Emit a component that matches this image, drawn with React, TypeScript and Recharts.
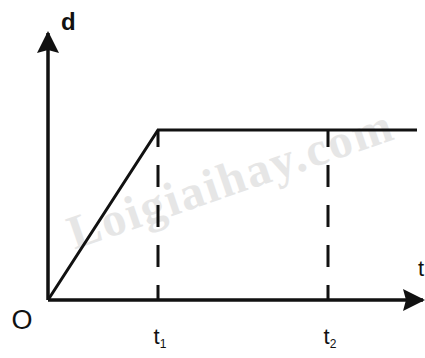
import React from 'react';
import { LineChart, Line, XAxis, YAxis, ReferenceLine, Label } from 'recharts';

// distance-time graph: rise until t1, then constant
const times = [0, 2.2, 7.38];
const distances = [0, 10, 10];
const markTimes = [2.2, 5.6];
const markSubs = ['1', '2'];

const data = times.map((t, i) => ({ t, d: distances[i] }));

const FONT = '"Liberation Sans", Arial, sans-serif';

function TimeTick(props: any) {
  const { x, y, payload } = props;
  if (payload.value === 0) {
    return (
      <text x={x - 26} y={y + 21} textAnchor="middle" fontFamily={FONT} fontSize={27} fill="#111">
        O
      </text>
    );
  }
  const idx = markTimes.indexOf(payload.value);
  return (
    <text x={x + 2} y={y + 36} textAnchor="middle" fontFamily={FONT} fontSize={22} fill="#111">
      t<tspan fontSize={12} dy={4}>{markSubs[idx]}</tspan>
    </text>
  );
}

export default function App() {
  return (
    <div style={{ position: 'absolute', left: 0, top: 0, background: '#fff' }}>
      <LineChart
        width={425}
        height={358}
        data={data}
        margin={{ top: 33, right: 2, bottom: 57, left: 47 }}
      >
        <defs>
          <marker
            id="arrowHead"
            markerUnits="userSpaceOnUse"
            markerWidth={24}
            markerHeight={24}
            refX={20}
            refY={11}
            orient="auto-start-reverse"
          >
            <path d="M0,0 L22,11 L0,22 L3,11 z" fill="#111" />
          </marker>
        </defs>
        <text
          x={236}
          y={194}
          transform="rotate(-19 236 194)"
          textAnchor="middle"
          fontFamily='"Liberation Serif", serif'
          fontWeight="bold"
          fontSize={48}
          letterSpacing={2}
          fill="#e6e6e6"
        >
          Loigiaihay.com
        </text>
        <XAxis
          dataKey="t"
          type="number"
          domain={[0, 7.5]}
          ticks={[0, ...markTimes]}
          tickLine={false}
          tick={<TimeTick />}
          height={1}
          axisLine={{ stroke: '#111', strokeWidth: 3.5, markerEnd: 'url(#arrowHead)' }}
        >
          <Label
            content={(p: any) => {
              const vb = p.viewBox;
              return (
                <text x={vb.x + vb.width - 5} y={vb.y - 24} fontFamily={FONT} fontSize={22} fill="#111">
                  t
                </text>
              );
            }}
          />
        </XAxis>
        <YAxis
          type="number"
          domain={[0, 15.7]}
          tick={false}
          tickLine={false}
          width={1}
          axisLine={{ stroke: '#111', strokeWidth: 3.5, markerStart: 'url(#arrowHead)' }}
        >
          <Label
            content={(p: any) => {
              const vb = p.viewBox;
              return (
                <text x={vb.x + 14} y={vb.y - 3} fontFamily={FONT} fontWeight="bold" fontSize={24} fill="#111">
                  d
                </text>
              );
            }}
          />
        </YAxis>
        {markTimes.map((t) => (
          <ReferenceLine
            key={t}
            segment={[{ x: t, y: 0 }, { x: t, y: distances[1] }]}
            stroke="#111"
            strokeWidth={3}
            strokeDasharray="22 18"
            strokeDashoffset={7}
          />
        ))}
        <Line
          dataKey="d"
          type="linear"
          stroke="#111"
          strokeWidth={3}
          dot={false}
          isAnimationActive={false}
        />
      </LineChart>
    </div>
  );
}
